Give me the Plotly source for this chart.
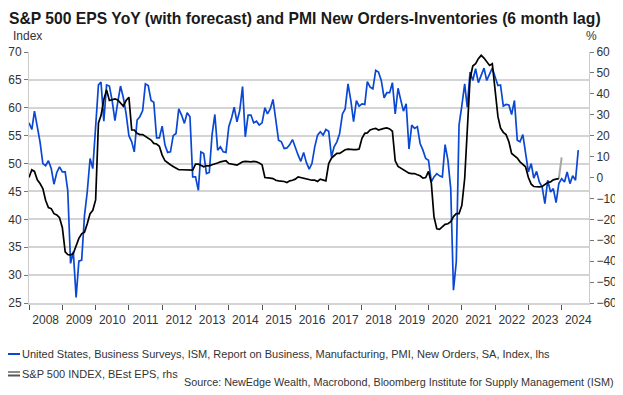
import plotly.graph_objects as go
import pandas as pd

# ISM New Orders (lhs, index), monthly from Jan 2008
pmi_values = [
    57.3, 56.1, 59.4, 56.6, 53.9, 50.0, 49.6, 50.5, 49.1, 46.3,
    48.4, 49.4, 48.5, 48.5, 45.2, 32.1, 34.2, 26.0, 32.5, 32.7,
    40.7, 44.9, 50.9, 49.1, 56.3, 64.1, 64.6, 57.6, 64.1, 63.9,
    61.3, 57.7, 61.0, 63.9, 61.8, 59.0, 55.0, 53.9, 52.1, 57.8,
    58.4, 59.5, 64.3, 64.0, 61.3, 61.0, 54.6, 54.6, 56.7, 53.3,
    52.0, 52.1, 55.0, 55.4, 59.8, 58.7, 57.2, 59.1, 58.4, 47.6,
    47.6, 45.2, 52.1, 51.8, 48.2, 48.4, 55.1, 58.8, 52.4, 53.0,
    52.1, 52.0, 56.6, 58.2, 60.1, 57.5, 59.5, 63.8, 54.8, 58.7,
    58.7, 57.3, 57.6, 56.9, 57.3, 60.0, 58.9, 59.8, 61.5, 57.5,
    54.2, 53.9, 52.7, 52.8, 53.4, 54.3, 52.8, 51.5, 50.4, 52.0,
    50.2, 49.0, 50.0, 53.0, 55.1, 55.7, 55.1, 56.1, 55.8, 51.2,
    53.0, 53.9, 55.4, 58.9, 59.8, 64.3, 61.3, 57.5, 61.3, 60.3,
    60.7, 60.6, 64.7, 63.7, 63.4, 66.7, 66.4, 64.9, 61.8, 62.7,
    62.7, 64.5, 58.9, 63.5, 61.5, 59.4, 60.7, 52.6, 56.9, 56.3,
    56.6, 53.6, 52.4, 50.9, 50.6, 46.7, 47.6, 48.2, 47.8, 47.6,
    53.4, 50.6, 45.5, 27.3, 32.4, 56.9, 60.4, 64.3, 60.1, 66.4,
    64.9, 67.0, 64.5, 65.9, 67.1, 64.9, 66.1, 67.1, 65.5, 64.0,
    64.1, 60.3, 60.6, 60.5, 58.8, 61.3, 54.2, 53.9, 55.2, 51.5,
    48.5, 50.0, 47.4, 48.6, 46.7, 45.8, 42.8, 47.0, 44.9, 45.5,
    43.0, 46.4, 47.3, 46.7, 48.5, 46.4, 47.8, 47.0, 52.4,
]

# S&P 500 BEst EPS YoY (rhs, %), monthly from Jan 2008
eps_values = [
    0.0, 3.7, 2.9, -1.1, -2.9, -5.3, -10.9, -14.4, -14.9, -17.3,
    -17.9, -19.2, -24.0, -35.5, -36.8, -37.1, -36.3, -32.8, -29.1, -26.9,
    -26.1, -22.1, -17.3, -15.7, -10.7, 26.1, 29.6, 37.3, 41.9, 36.8,
    37.3, 37.6, 37.1, 35.7, 34.1, 36.8, 38.4, 22.7, 22.7, 21.1,
    20.5, 20.5, 19.7, 18.9, 17.9, 16.3, 16.0, 14.9, 10.7, 8.0,
    6.9, 6.1, 5.3, 4.5, 3.7, 3.7, 3.7, 3.5, 3.5, 3.5,
    6.4, 6.4, 5.9, 5.1, 5.6, 5.6, 6.1, 6.4, 6.9, 7.5,
    7.7, 8.0, 6.7, 6.4, 6.1, 5.9, 6.7, 7.5, 7.7, 7.5,
    7.5, 7.7, 7.5, 6.9, 6.1, 0.0, -0.3, -0.3, -0.5, -1.3,
    -1.6, -1.6, -1.9, -2.4, -1.6, -1.3, -0.8, 0.3, 0.0, -0.5,
    -0.8, -1.1, -1.3, -1.3, -1.9, -0.8, -1.1, -1.6, 6.7, 9.3,
    10.4, 11.5, 11.5, 12.3, 13.3, 13.6, 13.3, 13.3, 13.3, 13.6,
    18.7, 21.1, 21.3, 22.7, 23.2, 23.5, 22.7, 23.2, 23.5, 23.7,
    23.2, 22.1, 8.0, 5.3, 4.5, 3.7, 2.9, 2.1, 1.9, 1.9,
    1.3, 0.8, -0.3, 0.0, 2.9, -2.7, -18.7, -24.5, -24.8, -23.5,
    -22.4, -22.1, -21.1, -18.7, -17.3, -17.3, -13.3, -0.5, 21.3, 47.2,
    53.3, 54.4, 56.8, 58.4, 57.1, 55.2, 53.6, 54.4, 41.3, 29.1,
    23.7, 21.6, 20.5, 17.1, 11.5, 10.4, 9.3, 7.5, 6.4, 5.1,
    0.0, -3.2, -4.3, -4.5, -4.5, -4.3, -3.5, -2.4, -2.1, -1.1,
    -0.8, -0.5,
]

# forecast part (rhs, %)
forecast_dates = ["2023-12-01", "2024-01-01"]
forecast_values = [-0.5, 9.6]

pmi_dates = pd.date_range("2008-01-01", periods=len(pmi_values), freq="MS")
eps_dates = pd.date_range("2008-01-01", periods=len(eps_values), freq="MS")

title_text = "S&P 500 EPS YoY (with forecast) and PMI New Orders-Inventories (6 month lag)"
pmi_name = "United States, Business Surveys, ISM, Report on Business, Manufacturing, PMI, New Orders, SA, Index, lhs"
eps_name = "S&P 500 INDEX, BEst EPS, rhs"
source_text = "Source: NewEdge Wealth, Macrobond, Bloomberg Institute for Supply Management (ISM)"

BLUE = "#0a48d4"
FONT = "Liberation Sans, Arial, sans-serif"
TXT = "#333333"

OFF = 8  # page body margin
FW, FH = 623 - OFF, 395 - OFF
L, R, T, B = 29 - OFF, 589 - OFF, 52 - OFF, 303 - OFF
W, H = R - L, B - T

def px_x(x):
    return (x - OFF - L) / W

def px_y(y):
    return 1 - (y - OFF - T) / H

fig = go.Figure()
fig.add_trace(go.Scatter(x=pmi_dates, y=pmi_values, mode="lines", name=pmi_name,
                         line=dict(color=BLUE, width=1.7), yaxis="y"))
fig.add_trace(go.Scatter(x=forecast_dates, y=forecast_values, mode="lines", name="forecast",
                         line=dict(color="#a6a6a6", width=2), yaxis="y2"))
fig.add_trace(go.Scatter(x=eps_dates, y=eps_values, mode="lines", name=eps_name,
                         line=dict(color="#000000", width=1.7), yaxis="y2"))

fig.update_layout(
    width=FW, height=FH,
    margin=dict(l=L, r=FW - R, t=T, b=FH - B, autoexpand=False),
    paper_bgcolor="white", plot_bgcolor="white",
    showlegend=False,
    font=dict(family=FONT, size=12, color=TXT),
    xaxis=dict(
        type="date", automargin=False,
        range=["2008-01-01", "2024-10-27"],
        tick0="2008-01-01", dtick="M12", tickformat="%Y",
        ticklabelmode="period",
        ticks="outside", ticklen=5, tickcolor="#555555",
        showgrid=False, showline=True, linecolor="#d4d4d4", linewidth=1.5,
        zeroline=False,
        tickfont=dict(family=FONT, size=12, color=TXT),
    ),
    yaxis=dict(
        range=[25, 70], dtick=5, automargin=False,
        ticks="outside", ticklen=4, tickcolor="#777777",
        showgrid=True, gridcolor="#d4d4d4", gridwidth=1.5,
        showline=True, linecolor="#cccccc", linewidth=1,
        zeroline=False,
        tickfont=dict(family=FONT, size=12, color=TXT),
    ),
    yaxis2=dict(
        range=[-60, 60], dtick=10, overlaying="y", side="right", automargin=False,
        ticks="outside", ticklen=4, tickcolor="#777777",
        showgrid=False, showline=True, linecolor="#cccccc", linewidth=1,
        zeroline=False,
        tickfont=dict(family=FONT, size=12, color=TXT),
    ),
)

fig.add_annotation(text="<b>" + title_text.replace("&", "&amp;") + "</b>",
                   xref="paper", yref="paper", x=px_x(7), y=px_y(18),
                   xanchor="left", yanchor="middle", showarrow=False,
                   font=dict(family=FONT, size=15.7, color="#1a1a1a"))
fig.add_annotation(text="Index", xref="paper", yref="paper",
                   x=px_x(11), y=px_y(36), xanchor="left", yanchor="middle",
                   showarrow=False, font=dict(family=FONT, size=12, color=TXT))
fig.add_annotation(text="%", xref="paper", yref="paper",
                   x=px_x(599), y=px_y(36), xanchor="right", yanchor="middle",
                   showarrow=False, font=dict(family=FONT, size=12, color=TXT))

# legend drawn manually
fig.add_shape(type="line", xref="paper", yref="paper", x0=px_x(7), x1=px_x(20),
              y0=px_y(354), y1=px_y(354), line=dict(color=BLUE, width=2))
fig.add_shape(type="line", xref="paper", yref="paper", x0=px_x(7), x1=px_x(20),
              y0=px_y(372), y1=px_y(372), line=dict(color="#8c8c8c", width=2))
fig.add_shape(type="line", xref="paper", yref="paper", x0=px_x(7), x1=px_x(20),
              y0=px_y(375.5), y1=px_y(375.5), line=dict(color="#555555", width=2))
fig.add_annotation(text=pmi_name, xref="paper", yref="paper", x=px_x(20), y=px_y(354),
                   xanchor="left", yanchor="middle", showarrow=False,
                   font=dict(family=FONT, size=11, color=TXT))
fig.add_annotation(text=eps_name.replace("&", "&amp;"), xref="paper", yref="paper", x=px_x(20), y=px_y(374),
                   xanchor="left", yanchor="middle", showarrow=False,
                   font=dict(family=FONT, size=11, color=TXT))
fig.add_annotation(text=source_text, xref="paper", yref="paper", x=px_x(616), y=px_y(382),
                   xanchor="right", yanchor="middle", showarrow=False,
                   font=dict(family=FONT, size=10.8, color=TXT))

fig.write_html("out.html")
